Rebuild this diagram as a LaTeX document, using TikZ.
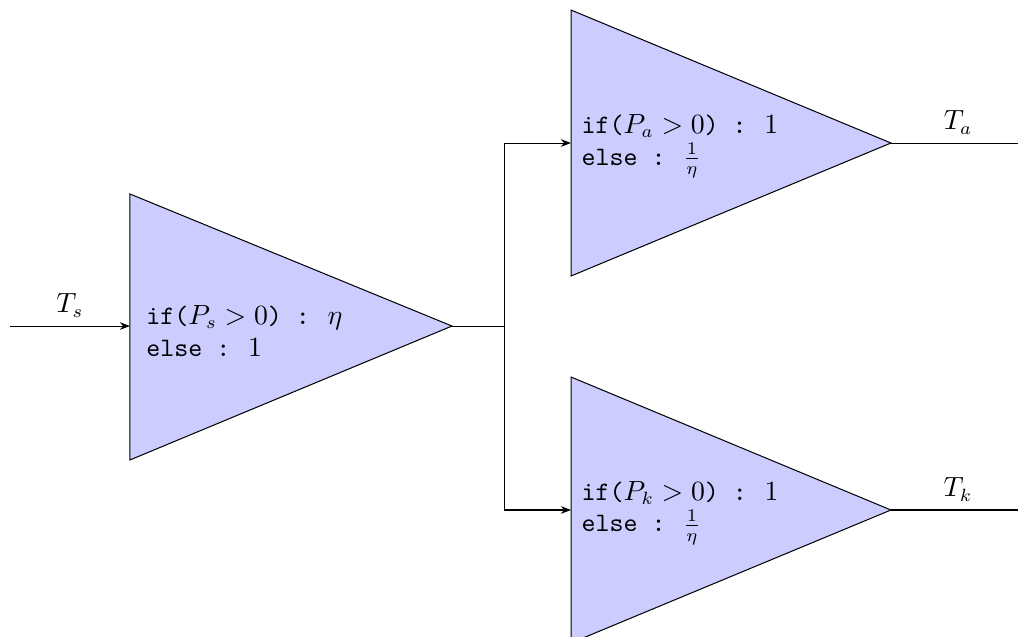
\documentclass[tikz,border=0pt]{standalone}
\usetikzlibrary{arrows.meta}
\begin{document}
\begin{tikzpicture}[
  font=\fontsize{10.5}{12.6}\selectfont,
  amp/.style={draw=black, fill=blue!20},
  arr/.style={-{Stealth[length=4pt,width=3pt]}},
  lbl/.style={anchor=west, align=left, inner sep=0pt},
]
\useasboundingbox (0,0) rectangle (14.1,8.823);
% source amplifier
\coordinate (sT) at (1.80,6.136);
\coordinate (sB) at (1.80,2.452);
\coordinate (sIn) at (1.80,4.307);
\coordinate (sA) at (6.26,4.307);
\coordinate (in) at (0.139,4.307);
% top amplifier
\coordinate (aT) at (7.909,8.684);
\coordinate (aB) at (7.909,5.0);
\coordinate (aIn) at (7.909,6.842);
\coordinate (aA) at (12.34,6.842);
\coordinate (aOut) at (14.2,6.842);
% bottom amplifier
\coordinate (kT) at (7.909,3.601);
\coordinate (kB) at (7.909,-0.083);
\coordinate (kIn) at (7.909,1.759);
\coordinate (kA) at (12.34,1.759);
\coordinate (kOut) at (14.2,1.759);
% junction
\coordinate (j) at (6.994,4.307);
\coordinate (ja) at (6.994,6.842);
\coordinate (jk) at (6.994,1.759);

\draw[amp] (sT) -- (sA) -- (sB) -- cycle;
\draw[amp] (aT) -- (aA) -- (aB) -- cycle;
\draw[amp] (kT) -- (kA) -- (kB) -- cycle;

\node[lbl] (sTxt) at (2.02,4.24) {\texttt{if(}$P_s>0$\texttt{)\ :\ }\kern1.5pt$\eta$\\\texttt{else :\ }\kern1.5pt$1$};
\node[lbl] (aTxt) at (8.05,6.80) {\texttt{if(}$P_a>0$\texttt{)\ :\ }\kern1.5pt$1$\\\texttt{else :\ }\kern1.5pt$\frac{1}{\eta}$};
\node[lbl] (kTxt) at (8.05,1.717) {\texttt{if(}$P_k>0$\texttt{)\ :\ }\kern1.5pt$1$\\\texttt{else :\ }\kern1.5pt$\frac{1}{\eta}$};

\draw[arr] (in) -- node[above] (ts) {$T_s$} (sIn);
\draw (sA) -- (j);
\draw[arr] (j) -- (ja) -- (aIn);
\draw[arr] (j) -- (jk) -- (kIn);
\draw (aA) -- node[above] (ta) {$T_a$} (aOut);
\draw (kA) -- node[above] (tk) {$T_k$} (kOut);
\end{tikzpicture}
\end{document}
